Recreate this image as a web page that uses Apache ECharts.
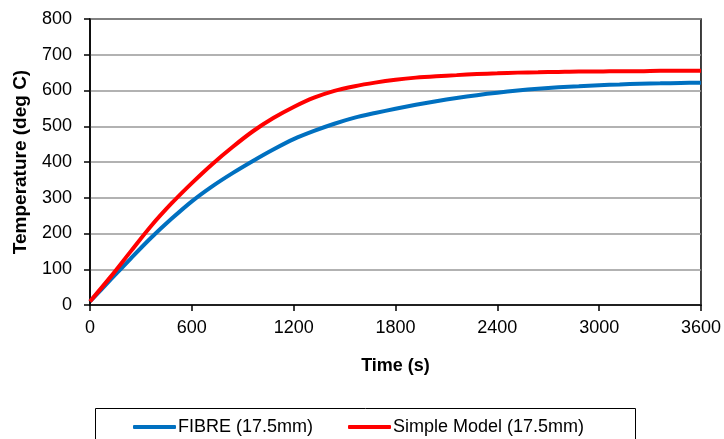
<!DOCTYPE html>
<html>
<head>
<meta charset="utf-8">
<script src="https://cdn.jsdelivr.net/npm/echarts@6/dist/echarts.min.js"></script>
<style>
  html, body { margin: 0; padding: 0; background: #fff; }
  #chart { width: 724px; height: 439px; }
</style>
</head>
<body>
<div id="chart"></div>
<script>
// Time in seconds, sampled every 120 s
const times = [0, 120, 240, 360, 480, 600, 720, 840, 960, 1080, 1200, 1320, 1440, 1560, 1680,
  1800, 1920, 2040, 2160, 2280, 2400, 2520, 2640, 2760, 2880, 3000, 3120, 3240, 3360, 3480, 3600];

// Temperature (deg C) from the FIBRE calculation
const fibreTemps = [10, 70, 130, 188, 241, 290, 332, 369, 403, 435, 464, 487, 507, 524, 537,
  549, 560, 570, 579, 587, 594, 600, 605, 609, 612, 615, 617, 619, 620, 621, 622];

// Temperature (deg C) from the simple model
const simpleTemps = [10, 78, 150, 221, 284, 341, 394, 442, 486, 523, 554, 580, 599, 612, 622,
  630, 636, 640, 643, 646, 648, 650, 651, 652, 653, 653, 654, 654, 655, 655, 655];

const seriesNames = ['FIBRE (17.5mm)', 'Simple Model (17.5mm)'];
const seriesColors = ['#0070C0', '#FF0000'];

const pair = (ys) => times.map((t, i) => [t, ys[i]]);

const fontFamily = '"Liberation Sans", Arial, sans-serif';
const plainNumber = (v) => String(v);

const chart = echarts.init(document.getElementById('chart'), null, { renderer: 'canvas' });

chart.setOption({
  animation: false,
  backgroundColor: '#ffffff',
  textStyle: { fontFamily: fontFamily, color: '#000' },
  grid: {
    left: 90, right: 23, top: 19, bottom: 134,
    show: true, borderColor: '#000', borderWidth: 1.5
  },
  graphic: [{
    type: 'rect',
    left: 93, top: 406,
    shape: { width: 540, height: 50 },
    style: { fill: 'none', stroke: '#000', lineWidth: 1 },
    z: 1
  }],
  legend: {
    data: seriesNames,
    left: 128, top: 413,
    icon: 'roundRect',
    itemWidth: 43, itemHeight: 4,
    itemGap: 35,
    textStyle: { fontFamily: fontFamily, fontSize: 18, color: '#000', padding: [0, 0, 0, -3] }
  },
  xAxis: {
    type: 'value',
    min: 0, max: 3600, interval: 600,
    name: 'Time (s)',
    nameLocation: 'middle',
    nameGap: 52,
    nameTextStyle: { fontFamily: fontFamily, fontWeight: 'bold', fontSize: 18, color: '#000' },
    axisLine: { show: true, onZero: false, lineStyle: { color: '#000', width: 1.5 } },
    axisTick: { show: true, length: 6, lineStyle: { color: '#000', width: 1.5 } },
    axisLabel: { margin: 14, fontSize: 18, color: '#000', fontFamily: fontFamily, formatter: plainNumber },
    splitLine: { show: false }
  },
  yAxis: {
    type: 'value',
    min: 0, max: 800, interval: 100,
    name: 'Temperature (deg C)',
    nameLocation: 'middle',
    nameGap: 60,
    nameRotate: 90,
    nameTextStyle: { fontFamily: fontFamily, fontWeight: 'bold', fontSize: 19, color: '#000' },
    axisLine: { show: true, lineStyle: { color: '#000', width: 1.5 } },
    axisTick: { show: true, length: 6, lineStyle: { color: '#000', width: 1.5 } },
    axisLabel: { margin: 18, fontSize: 18, color: '#000', fontFamily: fontFamily, formatter: plainNumber },
    splitLine: { show: true, lineStyle: { color: '#999', width: 1.5 } }
  },
  series: [
    {
      name: seriesNames[0],
      type: 'line',
      data: pair(fibreTemps),
      smooth: 0.3,
      showSymbol: false,
      color: seriesColors[0],
      lineStyle: { width: 4, color: seriesColors[0] },
      z: 3
    },
    {
      name: seriesNames[1],
      type: 'line',
      data: pair(simpleTemps),
      smooth: 0.3,
      showSymbol: false,
      color: seriesColors[1],
      lineStyle: { width: 4, color: seriesColors[1] },
      z: 4
    }
  ]
});
</script>
</body>
</html>
